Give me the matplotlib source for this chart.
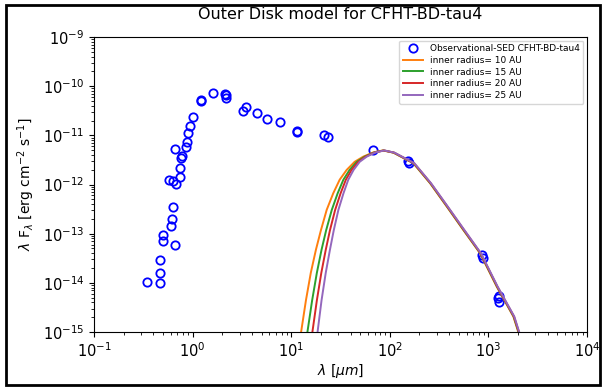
import matplotlib
matplotlib.use("Agg")
import matplotlib.pyplot as plt
from matplotlib.patches import Rectangle

# Observed SED (wavelength in micron, lambda F_lambda in erg cm^-2 s^-1)
obs_wave = [0.347, 0.470, 0.470, 0.470, 0.668, 0.501, 0.501, 0.604, 0.622, 0.628,
            0.674, 0.581, 0.628, 0.740, 0.750, 0.757, 0.774, 0.664, 0.857, 0.871,
            0.891, 0.948, 1.016, 1.22, 1.23, 1.62, 2.15, 2.17, 2.17, 3.50, 3.28,
            4.47, 5.64, 7.74, 11.4, 11.4, 21.7, 23.4, 68.0, 154.0, 157.0,
            855.0, 887.0, 1260.0, 1290.0, 1275.0]
obs_flux = [1.06e-14, 1.0e-14, 1.57e-14, 2.89e-14, 5.9e-14, 7.1e-14, 9.6e-14, 1.44e-13,
            1.97e-13, 3.46e-13, 1.01e-12, 1.26e-12, 1.2e-12, 1.41e-12, 2.14e-12,
            3.43e-12, 3.81e-12, 5.3e-12, 5.9e-12, 7.4e-12, 1.13e-11, 1.53e-11,
            2.37e-11, 5.0e-11, 5.2e-11, 7.27e-11, 7.0e-11, 6.5e-11, 5.7e-11,
            3.83e-11, 3.2e-11, 2.79e-11, 2.15e-11, 1.85e-11, 1.25e-11, 1.15e-11,
            1.01e-11, 9.4e-12, 5.05e-12, 3.0e-12, 2.75e-12, 3.7e-14, 3.15e-14,
            4.9e-15, 4.17e-15, 5.5e-15]

# Model curves
model_flux = [6e-16, 1e-15, 4.4e-15, 1.6e-14, 4.7e-14, 1.17e-13, 3.05e-13, 6.65e-13,
              1.25e-12, 1.98e-12, 2.9e-12, 3.69e-12, 4.5e-12, 4.93e-12, 4.45e-12,
              2.71e-12, 1.06e-12, 3.56e-13, 1.19e-13, 4.0e-14, 8.4e-15, 2.07e-15,
              8e-16]
wave_10 = [12.2, 12.6, 14.1, 15.8, 17.8, 20.0, 22.9, 26.7, 31.0, 36.5, 44.0, 53.8, 68.0,
           85.0, 108.5, 173.0, 256.0, 378.0, 556.0, 822.0, 1213.0, 1790.0, 2080.0]
wave_15 = [14.1, 14.6, 16.3, 18.2, 20.3, 22.6, 25.8, 29.6, 33.8, 39.1, 46.2, 55.7, 69.6,
           86.5, 109.5, 174.5, 258.0, 381.0, 560.0, 828.0, 1222.0, 1803.0, 2095.0]
wave_20 = [15.9, 16.4, 18.2, 20.2, 22.4, 24.7, 27.9, 31.7, 35.8, 40.9, 47.9, 57.0, 70.6,
           87.3, 110.5, 176.0, 260.0, 384.0, 565.0, 834.0, 1231.0, 1816.0, 2110.0]
wave_25 = [17.9, 18.5, 20.3, 22.4, 24.7, 27.0, 30.1, 33.9, 37.9, 42.9, 49.5, 58.3, 71.5,
           88.1, 111.5, 177.5, 262.0, 387.0, 570.0, 840.0, 1240.0, 1829.0, 2125.0]

labels = ["inner radius= 10 AU", "inner radius= 15 AU",
          "inner radius= 20 AU", "inner radius= 25 AU"]
colors = ["tab:orange", "tab:green", "tab:red", "tab:purple"]

fig = plt.figure(figsize=(6.03, 3.88), dpi=100)
ax = fig.add_axes([0.1559, 0.1443, 0.8176, 0.7603])

ax.plot(obs_wave, obs_flux, linestyle="none", marker="o", markersize=6,
        markerfacecolor="none", markeredgecolor="blue", markeredgewidth=1.3,
        label="Observational-SED CFHT-BD-tau4")
for w, lab, c in zip([wave_10, wave_15, wave_20, wave_25], labels, colors):
    ax.plot(w, model_flux, color=c, linewidth=1.4, label=lab)

ax.set_xscale("log")
ax.set_yscale("log")
ax.set_xlim(1e-1, 1e4)
ax.set_ylim(1e-15, 1e-9)
ax.tick_params(labelsize=10.5)
ax.set_xlabel(r"$\lambda$ [$\mu m$]", fontsize=10, labelpad=1)
ax.set_ylabel(r"$\lambda$ F$_\lambda$ [erg cm$^{-2}$ s$^{-1}$]", fontsize=10)
ax.set_title("Outer Disk model for CFHT-BD-tau4", fontsize=11.5, pad=13)
ax.legend(loc="upper right", fontsize=6.5, handlelength=2.2, labelspacing=0.3,
          borderaxespad=0.4)

fig.patches.append(Rectangle((0.00995, 0.0077), 0.985, 0.979, transform=fig.transFigure,
                             fill=False, edgecolor="black", linewidth=2))
fig.savefig("out.png", dpi=100)
